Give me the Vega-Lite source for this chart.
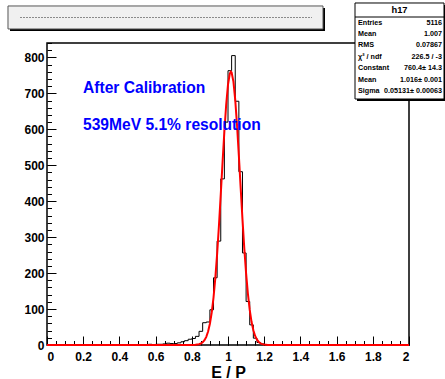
{
  "$schema": "https://vega.github.io/schema/vega-lite/v6.json",
  "width": 362,
  "height": 302,
  "autosize": "none",
  "padding": {"left": 47, "top": 43, "right": 36, "bottom": 34},
  "background": "white",
  "config": {
    "view": {"stroke": null},
    "font": "Liberation Sans",
    "axis": {"labelFont": "Liberation Sans", "labelFontWeight": "bold", "labelFontSize": 12, "labelColor": "black", "tickColor": "black", "domain": false, "grid": false, "titleFont": "Liberation Sans", "titleFontWeight": "bold", "titleColor": "black"}
  },
  "datasets": {
    "hist": [
      {"lo": 0.00, "n": 0}, {"lo": 0.02, "n": 0}, {"lo": 0.04, "n": 0}, {"lo": 0.06, "n": 0}, {"lo": 0.08, "n": 0},
      {"lo": 0.10, "n": 0}, {"lo": 0.12, "n": 0}, {"lo": 0.14, "n": 0}, {"lo": 0.16, "n": 0}, {"lo": 0.18, "n": 0},
      {"lo": 0.20, "n": 0}, {"lo": 0.22, "n": 0}, {"lo": 0.24, "n": 0}, {"lo": 0.26, "n": 0}, {"lo": 0.28, "n": 0},
      {"lo": 0.30, "n": 0}, {"lo": 0.32, "n": 0}, {"lo": 0.34, "n": 0}, {"lo": 0.36, "n": 0}, {"lo": 0.38, "n": 0},
      {"lo": 0.40, "n": 1}, {"lo": 0.42, "n": 0}, {"lo": 0.44, "n": 0}, {"lo": 0.46, "n": 1}, {"lo": 0.48, "n": 0},
      {"lo": 0.50, "n": 1}, {"lo": 0.52, "n": 0}, {"lo": 0.54, "n": 1}, {"lo": 0.56, "n": 2}, {"lo": 0.58, "n": 1},
      {"lo": 0.60, "n": 2}, {"lo": 0.62, "n": 2}, {"lo": 0.64, "n": 3}, {"lo": 0.66, "n": 5}, {"lo": 0.68, "n": 4},
      {"lo": 0.70, "n": 4}, {"lo": 0.72, "n": 6}, {"lo": 0.74, "n": 9}, {"lo": 0.76, "n": 12}, {"lo": 0.78, "n": 16},
      {"lo": 0.80, "n": 18}, {"lo": 0.82, "n": 24}, {"lo": 0.84, "n": 38}, {"lo": 0.86, "n": 62}, {"lo": 0.88, "n": 64},
      {"lo": 0.90, "n": 98}, {"lo": 0.92, "n": 187}, {"lo": 0.94, "n": 289}, {"lo": 0.96, "n": 462}, {"lo": 0.98, "n": 620},
      {"lo": 1.00, "n": 763}, {"lo": 1.02, "n": 805}, {"lo": 1.04, "n": 678}, {"lo": 1.06, "n": 482}, {"lo": 1.08, "n": 256},
      {"lo": 1.10, "n": 121}, {"lo": 1.12, "n": 56}, {"lo": 1.14, "n": 19}, {"lo": 1.16, "n": 7}, {"lo": 1.18, "n": 3},
      {"lo": 1.20, "n": 1}, {"lo": 1.22, "n": 0}, {"lo": 1.24, "n": 0}, {"lo": 1.26, "n": 0}, {"lo": 1.28, "n": 0},
      {"lo": 1.30, "n": 0}, {"lo": 1.32, "n": 0}, {"lo": 1.34, "n": 0}, {"lo": 1.36, "n": 0}, {"lo": 1.38, "n": 0},
      {"lo": 1.40, "n": 0}, {"lo": 1.42, "n": 0}, {"lo": 1.44, "n": 0}, {"lo": 1.46, "n": 0}, {"lo": 1.48, "n": 0},
      {"lo": 1.50, "n": 0}, {"lo": 1.52, "n": 0}, {"lo": 1.54, "n": 0}, {"lo": 1.56, "n": 0}, {"lo": 1.58, "n": 0},
      {"lo": 1.60, "n": 0}, {"lo": 1.62, "n": 0}, {"lo": 1.64, "n": 0}, {"lo": 1.66, "n": 0}, {"lo": 1.68, "n": 0},
      {"lo": 1.70, "n": 0}, {"lo": 1.72, "n": 0}, {"lo": 1.74, "n": 0}, {"lo": 1.76, "n": 0}, {"lo": 1.78, "n": 0},
      {"lo": 1.80, "n": 0}, {"lo": 1.82, "n": 0}, {"lo": 1.84, "n": 0}, {"lo": 1.86, "n": 0}, {"lo": 1.88, "n": 0},
      {"lo": 1.90, "n": 0}, {"lo": 1.92, "n": 0}, {"lo": 1.94, "n": 0}, {"lo": 1.96, "n": 0}, {"lo": 1.98, "n": 0}
    ],
    "fit": [
      {"x": 0, "f": 0}, {"x": 0.78, "f": 0.01}, {"x": 0.80, "f": 0.11}, {"x": 0.82, "f": 0.52}, {"x": 0.84, "f": 2.12},
      {"x": 0.85, "f": 4.06}, {"x": 0.86, "f": 7.48}, {"x": 0.87, "f": 13.27}, {"x": 0.88, "f": 22.67}, {"x": 0.89, "f": 37.29},
      {"x": 0.90, "f": 59.04}, {"x": 0.91, "f": 89.99}, {"x": 0.92, "f": 132.1}, {"x": 0.93, "f": 186.7}, {"x": 0.94, "f": 253.9},
      {"x": 0.95, "f": 332.5}, {"x": 0.96, "f": 419.2}, {"x": 0.97, "f": 508.8}, {"x": 0.98, "f": 594.5}, {"x": 0.99, "f": 668.8},
      {"x": 1.00, "f": 724.3}, {"x": 1.01, "f": 755.2}, {"x": 1.016, "f": 760.4}, {"x": 1.02, "f": 758.1}, {"x": 1.03, "f": 732.6},
      {"x": 1.04, "f": 681.6}, {"x": 1.05, "f": 610.5}, {"x": 1.06, "f": 526.4}, {"x": 1.07, "f": 437.1}, {"x": 1.08, "f": 349.3},
      {"x": 1.09, "f": 268.8}, {"x": 1.10, "f": 199.1}, {"x": 1.11, "f": 142.0}, {"x": 1.12, "f": 97.48}, {"x": 1.13, "f": 64.44},
      {"x": 1.14, "f": 41.01}, {"x": 1.15, "f": 25.12}, {"x": 1.16, "f": 14.81}, {"x": 1.17, "f": 8.42}, {"x": 1.18, "f": 4.60},
      {"x": 1.19, "f": 2.42}, {"x": 1.20, "f": 1.23}, {"x": 1.22, "f": 0.28}, {"x": 1.25, "f": 0.02}, {"x": 2.0, "f": 0}
    ],
    "one": [{}]
  },
  "layer": [
    {
      "data": {"name": "one"},
      "mark": {"type": "rect", "fill": null, "stroke": "black", "strokeWidth": 1.5},
      "encoding": {
        "x": {"datum": 0, "type": "quantitative", "axis": null},
        "x2": {"datum": 2},
        "y": {"datum": 0, "type": "quantitative", "axis": null},
        "y2": {"datum": 840}
      }
    },
    {
      "data": {"name": "hist"},
      "mark": {"type": "line", "interpolate": "step-after", "color": "black", "strokeWidth": 1},
      "encoding": {
        "x": {"field": "lo", "type": "quantitative", "scale": {"domain": [0, 2], "nice": false, "zero": false},
          "axis": {"orient": "bottom", "values": [0,0.05,0.1,0.15,0.2,0.25,0.3,0.35,0.4,0.45,0.5,0.55,0.6,0.65,0.7,0.75,0.8,0.85,0.9,0.95,1,1.05,1.1,1.15,1.2,1.25,1.3,1.35,1.4,1.45,1.5,1.55,1.6,1.65,1.7,1.75,1.8,1.85,1.9,1.95,2], "labels": false, "tickSize": -4.5, "title": null}},
        "y": {"field": "n", "type": "quantitative", "scale": {"domain": [0, 840], "nice": false},
          "axis": {"orient": "left", "values": [0,20,40,60,80,100,120,140,160,180,200,220,240,260,280,300,320,340,360,380,400,420,440,460,480,500,520,540,560,580,600,620,640,660,680,700,720,740,760,780,800,820,840], "labels": false, "tickSize": -4.5, "title": null}}
      }
    },
    {
      "data": {"name": "fit"},
      "mark": {"type": "line", "color": "#ff0000", "strokeWidth": 2},
      "encoding": {
        "x": {"field": "x", "type": "quantitative", "scale": {"domain": [0, 2], "nice": false, "zero": false},
          "axis": {"orient": "bottom", "values": [0,0.2,0.4,0.6,0.8,1,1.2,1.4,1.6,1.8,2], "format": "~g", "tickSize": -9, "labelPadding": 15, "title": "E / P", "titleFontSize": 16, "titlePadding": 2}},
        "y": {"field": "f", "type": "quantitative", "scale": {"domain": [0, 840], "nice": false},
          "axis": {"orient": "left", "values": [0,100,200,300,400,500,600,700,800], "tickSize": -9, "labelPadding": 12, "title": null}}
      }
    },
    {
      "data": {"name": "one"},
      "mark": {"type": "text", "text": "After Calibration", "color": "#0000ff", "fontSize": 15.6, "fontWeight": "bold", "align": "left", "baseline": "middle", "font": "Liberation Sans"},
      "encoding": {
        "x": {"datum": 0.199, "type": "quantitative", "axis": null},
        "y": {"datum": 714, "type": "quantitative", "axis": null}
      }
    },
    {
      "data": {"name": "one"},
      "mark": {"type": "text", "text": "539MeV 5.1% resolution", "color": "#0000ff", "fontSize": 15.6, "fontWeight": "bold", "align": "left", "baseline": "middle", "font": "Liberation Sans"},
      "encoding": {
        "x": {"datum": 0.199, "type": "quantitative", "axis": null},
        "y": {"datum": 611, "type": "quantitative", "axis": null}
      }
    },
    {
      "data": {"name": "one"},
      "mark": {"type": "rect", "fill": "black"},
      "encoding": {
        "x": {"datum": -0.2044, "type": "quantitative", "axis": null},
        "x2": {"datum": 1.5359},
        "y": {"datum": 937.4, "type": "quantitative", "axis": null},
        "y2": {"datum": 873.4}
      }
    },
    {
      "data": {"name": "one"},
      "mark": {"type": "rect", "fill": "#f0f0f0", "stroke": "#555555", "strokeWidth": 1},
      "encoding": {
        "x": {"datum": -0.2155, "type": "quantitative", "axis": null},
        "x2": {"datum": 1.5249},
        "y": {"datum": 943, "type": "quantitative", "axis": null},
        "y2": {"datum": 879}
      }
    },
    {
      "data": {"name": "one"},
      "mark": {"type": "rule", "color": "#8a8a8a", "strokeWidth": 1.2, "strokeDash": [2, 1]},
      "encoding": {
        "x": {"datum": -0.149, "type": "quantitative", "axis": null},
        "x2": {"datum": 1.464},
        "y": {"datum": 910.9, "type": "quantitative", "axis": null}
      }
    },
    {
      "data": {"name": "one"},
      "mark": {"type": "rect", "fill": "black"},
      "encoding": {
        "x": {"datum": 1.7127, "type": "quantitative", "axis": null},
        "x2": {"datum": 2.2044},
        "y": {"datum": 945.7, "type": "quantitative", "axis": null},
        "y2": {"datum": 678.6}
      }
    },
    {
      "data": {"name": "one"},
      "mark": {"type": "rect", "fill": "white", "stroke": "black", "strokeWidth": 1},
      "encoding": {
        "x": {"datum": 1.7017, "type": "quantitative", "axis": null},
        "x2": {"datum": 2.1934},
        "y": {"datum": 951.3, "type": "quantitative", "axis": null},
        "y2": {"datum": 684.2}
      }
    },
    {
      "data": {"name": "one"},
      "mark": {"type": "rule", "color": "black", "strokeWidth": 1},
      "encoding": {
        "x": {"datum": 1.7017, "type": "quantitative", "axis": null},
        "x2": {"datum": 2.1934},
        "y": {"datum": 912.3, "type": "quantitative", "axis": null}
      }
    },
    {
      "data": {"name": "one"},
      "mark": {"type": "text", "text": "h17", "fontSize": 9.3, "fontWeight": "bold", "align": "center", "baseline": "middle", "font": "Liberation Sans", "color": "black"},
      "encoding": {
        "x": {"datum": 1.9475, "type": "quantitative", "axis": null},
        "y": {"datum": 932.5, "type": "quantitative", "axis": null}
      }
    },
    {
      "data": {"name": "one"},
      "mark": {"type": "text", "text": ["Entries", "Mean", "RMS", "χ² / ndf", "Constant", "Mean", "Sigma"], "lineHeight": 11.4, "fontSize": 7.2, "fontWeight": "bold", "align": "left", "baseline": "middle", "font": "Liberation Sans", "color": "black"},
      "encoding": {
        "x": {"datum": 1.7182, "type": "quantitative", "axis": null},
        "y": {"datum": 897, "type": "quantitative", "axis": null}
      }
    },
    {
      "data": {"name": "one"},
      "mark": {"type": "text", "text": ["5116", "1.007", "0.07867", "226.5 / -3", "760.4± 14.3", "1.016± 0.001", "0.05131± 0.00063"], "lineHeight": 11.4, "fontSize": 7.2, "fontWeight": "bold", "align": "right", "baseline": "middle", "font": "Liberation Sans", "color": "black"},
      "encoding": {
        "x": {"datum": 2.1823, "type": "quantitative", "axis": null},
        "y": {"datum": 897, "type": "quantitative", "axis": null}
      }
    }
  ],
  "resolve": {"axis": {"x": "independent", "y": "independent"}}
}
